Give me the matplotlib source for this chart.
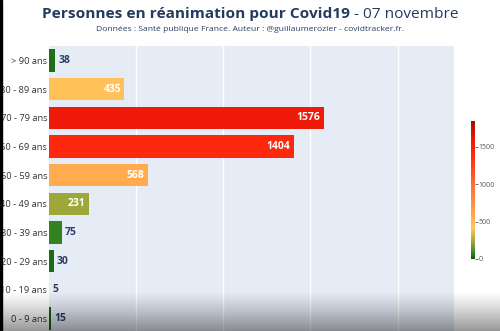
import numpy as np
import matplotlib
matplotlib.use("Agg")
import matplotlib.pyplot as plt
from matplotlib.colors import LinearSegmentedColormap, Normalize

# age groups, top to bottom as displayed
ages = ["> 90 ans", "80 - 89 ans", "70 - 79 ans", "60 - 69 ans", "50 - 59 ans",
        "40 - 49 ans", "30 - 39 ans", "20 - 29 ans", "10 - 19 ans", "0 - 9 ans"]
rea = [38, 435, 1576, 1404, 568, 231, 75, 30, 5, 15]
cbar_ticks = [0, 500, 1000, 1500]

title_bold = "Personnes en réanimation pour Covid19"
title_date = " - 07 novembre"
subtitle = "Données : Santé publique France. Auteur : @guillaumerozier - covidtracker.fr."

plt.rcParams['font.family'] = ['Open Sans', 'DejaVu Sans']
navy = "#2a3f5f"

cmap = LinearSegmentedColormap.from_list("rea", [
    (0.0, "#0a5c0a"), (0.05, "#3d8c26"), (0.13, "#a8aa3c"), (0.22, "#ffc65a"),
    (0.32, "#ffa64c"), (0.55, "#ff6a35"), (0.75, "#ff2a0e"), (0.87, "#ee180a"),
    (1.0, "#9a0e0a")])
norm = Normalize(0, 1850)

fig = plt.figure(figsize=(5, 3.31), dpi=100)
ax = fig.add_axes([0.097, -0.006, 0.811, 0.867])
ax.set_facecolor("#e5ecf6")

y = np.arange(len(ages))[::-1]
colors = [cmap(norm(v)) for v in rea]
ax.barh(y, rea, height=0.78, color=colors, zorder=2)

xmax = 2323
ax.set_xlim(0, xmax)
ax.set_ylim(-0.5, len(ages) - 0.5)
ax.set_xticks([500, 1000, 1500, 2000])
ax.set_xticklabels([])
ax.tick_params(axis='x', length=0)
ax.grid(axis='x', color='white', lw=1, zorder=1)
ax.set_yticks(y)
ax.set_yticklabels(ages, fontsize=6.7, color="#333333")
ax.tick_params(axis='y', length=0, pad=1)
for s in ax.spines.values():
    s.set_visible(False)

# value labels: inside when the bar is wide enough, otherwise outside
for yi, v in zip(y, rea):
    if v > 200:
        ax.text(v - 18, yi, str(v), ha='right', va='center', fontsize=7.5,
                fontweight='bold', color='white', zorder=3)
    else:
        ax.text(v + 18, yi, str(v), ha='left', va='center', fontsize=7.5,
                fontweight='bold', color=navy, zorder=3)

# colorbar
cax = fig.add_axes([0.942, 0.218, 0.007, 0.417])
sm = plt.cm.ScalarMappable(norm=norm, cmap=cmap)
cb = fig.colorbar(sm, cax=cax, ticks=cbar_ticks)
cb.outline.set_visible(False)
cax.tick_params(labelsize=5, colors="#555555", length=2, width=0.6, pad=1)

# title
fig.text(0.70, 0.947, title_bold, ha='right', va='baseline', fontsize=11.1,
         fontweight='bold', color="#243a5e")
fig.text(0.70, 0.947, title_date, ha='left', va='baseline', fontsize=11.1,
         color="#243a5e")
fig.text(0.5, 0.907, subtitle, ha='center', va='baseline', fontsize=6.1,
         color=navy)

# dark gradient at the bottom and thin black edge on the left
ov = fig.add_axes([0, 0, 1, 1], zorder=10)
ov.set_axis_off()
h = 331
ramp = np.clip((np.arange(h) - 290) / 41, 0, 1) ** 1.2 * 0.42
img = np.zeros((h, 1, 4))
img[:, 0, 3] = ramp
ov.imshow(img, aspect='auto', extent=[0, 1, 0, 1], origin='upper')
ov.add_patch(plt.Rectangle((0, 0), 0.004, 1, color='black', transform=ov.transAxes))
ov.set_xlim(0, 1)
ov.set_ylim(0, 1)

fig.savefig("out.png", dpi=100)
